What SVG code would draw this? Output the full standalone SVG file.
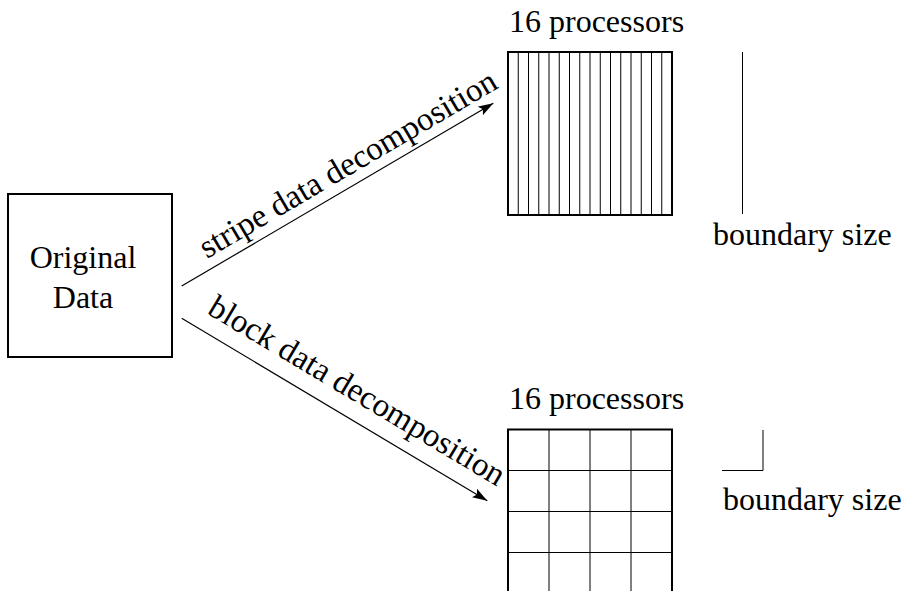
<svg xmlns="http://www.w3.org/2000/svg" width="907" height="591" viewBox="0 0 907 591">
  <style>
    text { font-family: "Liberation Serif", "Times New Roman", serif; font-size: 32px; fill: #000; }
    .slanted { font-size: 33px; }
    .frame { fill: #fff; stroke: #000; stroke-width: 2; }
    .cell { stroke: #000; stroke-width: 1; fill: none; }
    .edge { stroke: #000; stroke-width: 1.2; fill: none; }
  </style>
  <defs>
    <marker id="arrow" markerWidth="16" markerHeight="10" refX="15" refY="5" orient="auto" markerUnits="userSpaceOnUse">
      <path d="M0,0 L15,5 L0,10 L3,5 Z" fill="#000"/>
    </marker>
  </defs>
  <rect width="907" height="591" fill="#fff"/>

  <!-- source data block -->
  <g id="original-data">
    <rect class="frame" x="8" y="194" width="164" height="163"/>
    <text x="83" y="268" text-anchor="middle">Original</text>
    <text x="83" y="308" text-anchor="middle">Data</text>
  </g>

  <!-- stripe decomposition: 16 vertical strips -->
  <g id="stripe-grid">
    <text x="509" y="31.5">16 processors</text>
    <rect class="frame" x="508" y="52" width="164" height="163"/>
    <path class="cell" d="M518.25,52V215 M528.5,52V215 M538.75,52V215 M549,52V215 M559.25,52V215 M569.5,52V215 M579.75,52V215 M590,52V215 M600.25,52V215 M610.5,52V215 M620.75,52V215 M631,52V215 M641.25,52V215 M651.5,52V215 M661.75,52V215"/>
  </g>

  <g id="stripe-boundary">
    <line class="cell" x1="742.5" y1="52" x2="742.5" y2="214"/>
    <text x="713" y="245">boundary size</text>
  </g>

  <!-- block decomposition: 4 x 4 cells -->
  <g id="block-grid">
    <text x="509" y="409">16 processors</text>
    <rect class="frame" x="508" y="429.5" width="164" height="164"/>
    <path class="cell" d="M549,429.5V593 M590,429.5V593 M631,429.5V593 M508,470.5H672 M508,511.5H672 M508,552.5H672"/>
  </g>

  <g id="block-boundary">
    <polyline class="cell" points="722,470.5 763,470.5 763,430"/>
    <text x="723" y="510">boundary size</text>
  </g>

  <!-- connectors -->
  <g id="connectors">
    <line class="edge" x1="181.7" y1="286" x2="493.3" y2="103.3" marker-end="url(#arrow)"/>
    <text class="slanted" transform="translate(207,259) rotate(-30.4)">stripe data decomposition</text>
    <line class="edge" x1="181.7" y1="318.3" x2="487.3" y2="500.7" marker-end="url(#arrow)"/>
    <text class="slanted" transform="translate(206,313) rotate(30.8)">block data decomposition</text>
  </g>
</svg>
